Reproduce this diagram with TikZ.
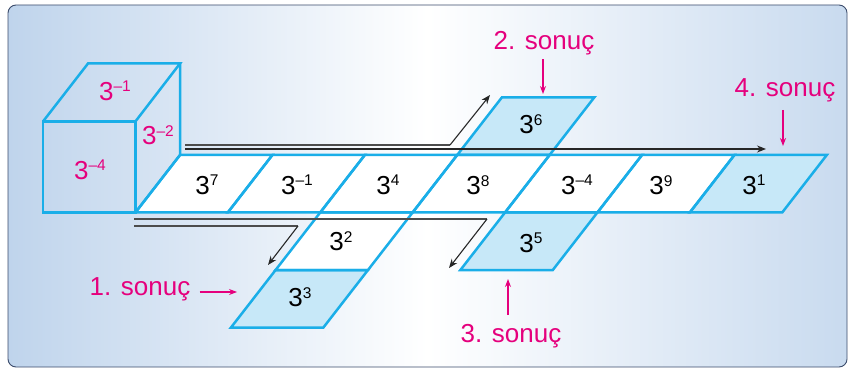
\documentclass[tikz,border=0pt]{standalone}
\usepackage{fontspec}
\setmainfont{Liberation Sans}
\usetikzlibrary{arrows.meta}
\definecolor{cyanline}{HTML}{1AAEE8}
\definecolor{lightfill}{HTML}{C7E8F8}
\definecolor{pinktxt}{HTML}{E5007D}
\definecolor{bgblue}{HTML}{BFD4EC}
\definecolor{framecol}{HTML}{3B4B6B}
\newcommand\pw[1]{3\raisebox{8.5pt}{\fontsize{15.5}{15.5}\selectfont #1}}
\newcommand\cellfill[3]{\fill[#3] (#1,#2) -- ++(92.4,0) -- ++(-44.6,57.5) -- ++(-92.4,0) -- cycle;}
\newcommand\celldraw[2]{\draw[face] (#1,#2) -- ++(92.4,0) -- ++(-44.6,57.5) -- ++(-92.4,0) -- cycle;}
\begin{document}
\begin{tikzpicture}[x=1pt,y=-1pt,
 face/.style={draw=cyanline, line width=2.5pt, line join=miter},
 lbl/.style={font=\fontsize{26}{30}\selectfont, inner sep=0pt},
 cubelbl/.style={lbl, text=pinktxt},
 res/.style={font=\fontsize{26}{30}\selectfont, text=pinktxt, inner sep=0pt},
 resarrow/.style={draw=pinktxt, line width=1.1pt, -{Stealth[length=8pt,width=6pt]}},
 gpath/.style={draw=black!70, line width=1.2pt},
 garrow/.style={draw=black!85, line width=1.1pt, -{Stealth[length=9pt,width=7pt]}}]
\useasboundingbox (0,0) rectangle (853,371);
% background
\shade[rounded corners=8pt, left color=bgblue, right color=bgblue!85, middle color=white] (8,5) rectangle (847,367);
\draw[framecol, line width=0.9pt, rounded corners=8pt] (8,5) rectangle (847,367);
% fills
\foreach \k in {0,...,5} {\cellfill{180+92.4*\k}{155}{white}}
\cellfill{734.4}{155}{lightfill}
\cellfill{501.8}{97.5}{lightfill}
\cellfill{320.2}{212.5}{white}
\cellfill{275.6}{270}{lightfill}
\cellfill{505}{212.5}{lightfill}
% outlines
\foreach \k in {0,...,6} {\celldraw{180+92.4*\k}{155}}
\celldraw{501.8}{97.5}
\celldraw{320.2}{212.5}
\celldraw{275.6}{270}
\celldraw{505}{212.5}
% cube
\draw[face] (43,121.5) rectangle (135.4,212.5);
\draw[face] (43,121.5) -- (88,63.5) -- (180,63.5) -- (135.4,121.5);
\draw[face] (180,63.5) -- (180,155) -- (135.4,212.5);
% cube labels
\node[cubelbl] (cm1) at (115,91) {\pw{–1}};
\node[cubelbl] (cm2) at (158,135) {\pw{–2}};
\node[cubelbl] (cm4) at (90,170) {\pw{–4}};
% strip labels
\node[lbl] (s7) at (207,185) {\pw{7}};
\node[lbl] (sm1) at (297,185) {\pw{–1}};
\node[lbl] (s4) at (388,185) {\pw{4}};
\node[lbl] (s8) at (478,185) {\pw{8}};
\node[lbl] (sm4) at (577,185) {\pw{–4}};
\node[lbl] (s9) at (661,185) {\pw{9}};
\node[lbl] (s1) at (754,185) {\pw{1}};
\node[lbl] (s6) at (531,124) {\pw{6}};
\node[lbl] (s2) at (341,241) {\pw{2}};
\node[lbl] (s3) at (300,297) {\pw{3}};
\node[lbl] (s5) at (531,243) {\pw{5}};
% path coordinates
\coordinate (t0) at (185,145);
\coordinate (t1) at (450,145);
\coordinate (t2) at (490,95);
\coordinate (u0) at (185,149);
\coordinate (u1) at (766,149);
\coordinate (b0) at (134,219);
\coordinate (b1) at (487,219);
\coordinate (b2) at (449,268);
\coordinate (c0) at (134,226);
\coordinate (c1) at (298,226);
\coordinate (c2) at (268,265);
\draw[gpath] (t0) -- (t1);
\draw[garrow] (t1) -- (t2);
\draw[garrow] (u0) -- (u1);
\draw[gpath] (b0) -- (b1);
\draw[garrow] (b1) -- (b2);
\draw[gpath] (c0) -- (c1);
\draw[garrow] (c1) -- (c2);
% result labels
\node[res] (r1) at (140,289) {1. sonuç};
\node[res] (r2) at (544,43) {2. sonuç};
\node[res] (r3) at (511,336) {3. sonuç};
\node[res] (r4) at (785,90) {4. sonuç};
\coordinate (r1e) at (237,292);
\coordinate (r2e) at (543,94);
\coordinate (r3e) at (508,279);
\coordinate (r4e) at (783,146);
\draw[resarrow] (r1.east |- r1e) ++(9,0) -- (r1e);
\draw[resarrow] (r2.south -| r2e) ++(0,4) -- (r2e);
\draw[resarrow] (r3.north -| r3e) ++(0,-9) -- (r3e);
\draw[resarrow] (r4.south -| r4e) ++(0,8) -- (r4e);
\end{tikzpicture}
\end{document}
